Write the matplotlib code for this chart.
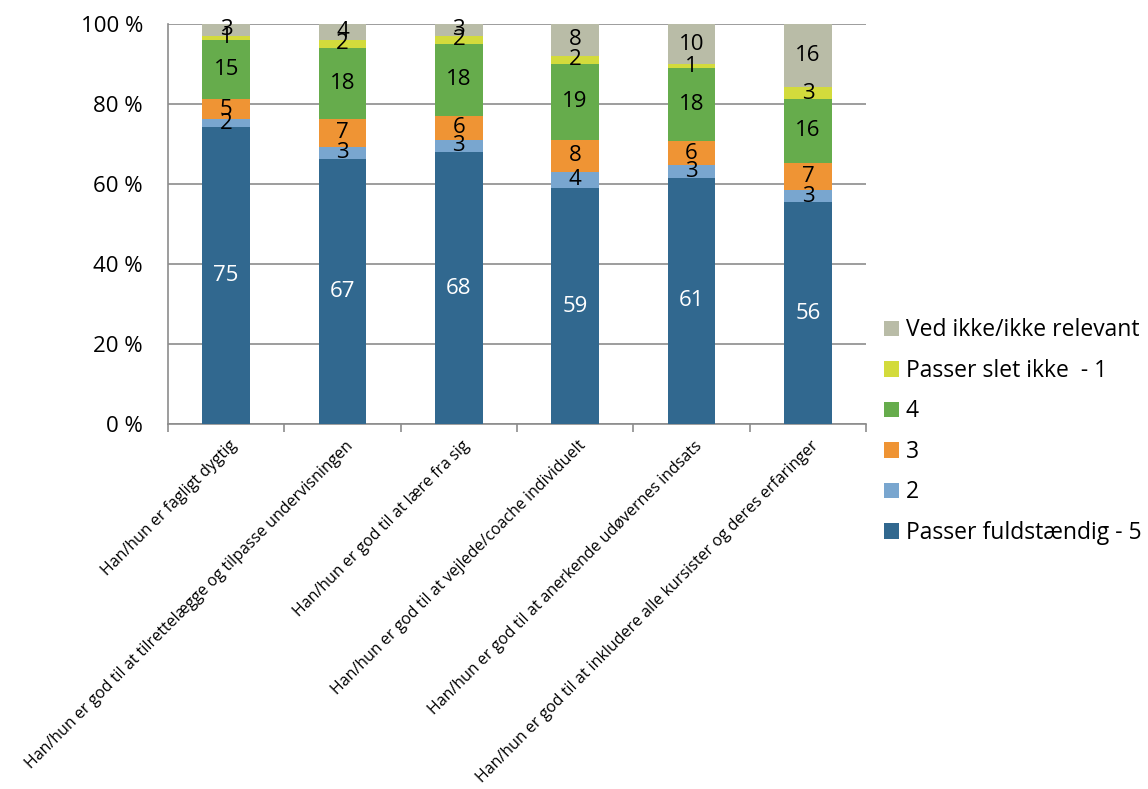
import numpy as np
import matplotlib
matplotlib.use("Agg")
import matplotlib.pyplot as plt
import matplotlib.transforms as mtransforms
from matplotlib.ticker import FixedLocator

plt.rcParams["font.family"] = ["Open Sans", "DejaVu Sans"]

categories = [
    "Han/hun er fagligt dygtig",
    "Han/hun er god til at tilrettelægge og tilpasse undervisningen",
    "Han/hun er god til at lære fra sig",
    "Han/hun er god til at vejlede/coache individuelt",
    "Han/hun er god til at anerkende udøvernes indsats",
    "Han/hun er god til at inkludere alle kursister og deres erfaringer",
]
series_names = ["Passer fuldstændig - 5", "2", "3", "4", "Passer slet ikke  - 1", "Ved ikke/ikke relevant"]
s5 = [75, 67, 68, 59, 61, 56]
s2 = [2, 3, 3, 4, 3, 3]
s3 = [5, 7, 6, 8, 6, 7]
s4 = [15, 18, 18, 19, 18, 16]
s1 = [1, 2, 2, 2, 1, 3]
s_na = [3, 4, 3, 8, 10, 16]
colors = ["#31688f", "#79a6cf", "#ef9434", "#66ac4c", "#d3db3c", "#b9bca7"]

data = np.array([s5, s2, s3, s4, s1, s_na], dtype=float)
pct = data / data.sum(axis=0) * 100

fig = plt.figure(figsize=(11.48, 7.89), dpi=100)
ax = fig.add_axes([0.1463, 0.4626, 0.6081, 0.507])

x = np.arange(len(categories))
bottom = np.zeros(len(categories))
handles = []
for i, (name, col) in enumerate(zip(series_names, colors)):
    h = ax.bar(x, pct[i], 0.41, bottom=bottom, color=col, label=name, zorder=3)
    handles.append(h)
    for j in range(len(categories)):
        yc = bottom[j] + pct[i][j] / 2
        ax.text(x[j], yc, f"{int(data[i][j])}", ha="center", va="center",
                fontsize=16, color="white" if i == 0 else "black", zorder=4)
    bottom += pct[i]

ax.set_xlim(-0.5, len(categories) - 0.5)
ax.set_ylim(0, 100)
ax.set_yticks([0, 20, 40, 60, 80, 100])
ax.set_yticklabels(["0 %", "20 %", "40 %", "60 %", "80 %", "100 %"], fontsize=16)
ax.yaxis.grid(True, color="#8c8c8c", lw=1.2, zorder=0)
ax.tick_params(axis="y", length=0, pad=18)

ax.set_xticks(x)
ax.set_xticklabels(categories, rotation=45, ha="right", va="center",
                   rotation_mode="anchor", fontsize=11.5)
ax.tick_params(axis="x", length=0, pad=14)
shift = mtransforms.ScaledTranslation(0.08, 0, fig.dpi_scale_trans)
for lbl in ax.get_xticklabels():
    lbl.set_transform(lbl.get_transform() + shift)
ax.xaxis.set_minor_locator(FixedLocator(np.arange(-0.5, len(categories), 1)))
ax.tick_params(axis="x", which="minor", length=6, color="#8c8c8c", width=1.2)

for s in ["top", "right"]:
    ax.spines[s].set_visible(False)
for s in ["left", "bottom"]:
    ax.spines[s].set_color("#8c8c8c")
    ax.spines[s].set_linewidth(1.2)

fig.legend(handles[::-1], series_names[::-1], loc="upper left",
           bbox_to_anchor=(0.762, 0.608), frameon=False, fontsize=16.5,
           handlelength=0.65, handleheight=0.65, handletextpad=0.3,
           labelspacing=0.72, borderaxespad=0)

fig.savefig("out.png", dpi=100)
